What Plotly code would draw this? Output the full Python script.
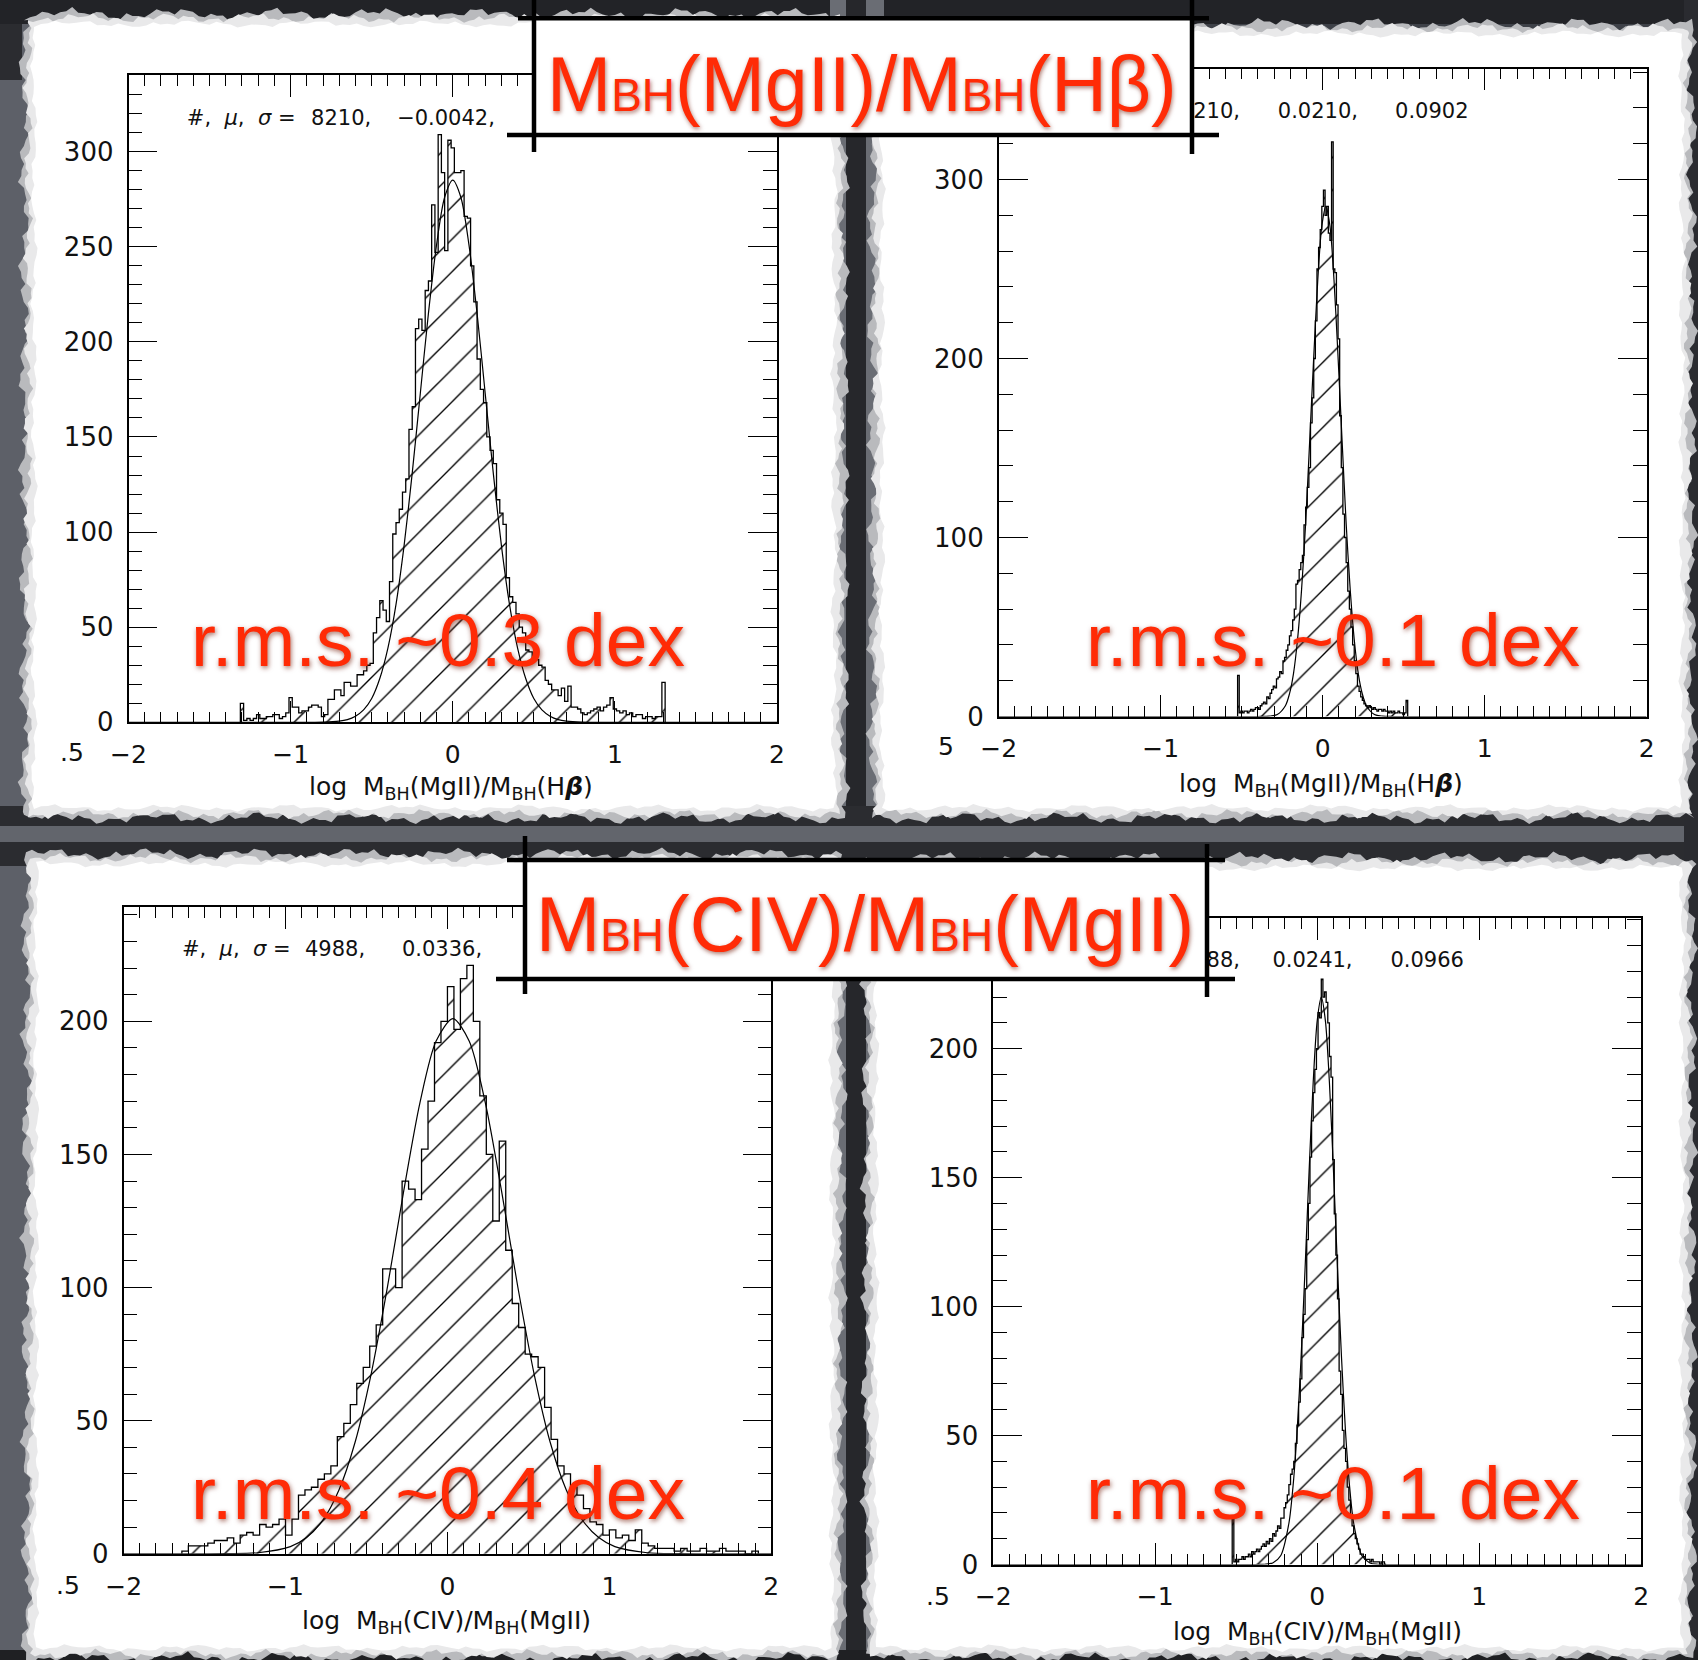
import math
import numpy as np
import plotly.graph_objects as go

W, H = 1698, 1660

# ---------------- data ----------------
# Top-left: log M_BH(MgII)/M_BH(Hbeta), bins of 0.02 starting at -1.30
tl_start, tl_bw = -1.30, 0.02
tl_counts = [10, 1, 2, 1, 2, 4, 2, 2, 3, 3, 4, 4, 2, 3, 5, 13, 8, 8, 5, 6,
             6, 8, 9, 9, 8, 3, 4, 12, 12, 17, 17, 14, 21, 21, 19, 19, 25, 25, 27, 30,
             31, 47, 55, 64, 59, 53, 74, 99, 105, 112, 121, 128, 154, 166, 207, 212, 206, 227, 232, 272,
             247, 309, 289, 248, 306, 302, 289, 289, 290, 266, 265, 240, 221, 191, 175, 168, 150, 143, 136, 117,
             110, 104, 76, 66, 63, 57, 50, 47, 38, 37, 33, 33, 30, 29, 22, 20, 17, 17, 14, 18,
             11, 19, 8, 8, 7, 5, 4, 5, 6, 7, 8, 6, 8, 9, 13, 7, 6, 5, 6, 4,
             5, 3, 4, 4, 2, 3, 3, 2, 3, 3, 21]
tl_fit_x = [-2.0, -1.0, -0.8, -0.7, -0.65, -0.6, -0.55, -0.5, -0.45, -0.4, -0.35, -0.3, -0.25, -0.2, -0.15, -0.1, -0.05,
            0.0, 0.05, 0.1, 0.15, 0.2, 0.25, 0.3, 0.35, 0.4, 0.45, 0.5, 0.55, 0.6, 0.65, 0.7, 0.8, 1.0, 2.0]
tl_fit_y = [0, 0, 0.1, 0.6, 1.4, 3.2, 6.5, 12.5, 23, 39, 62, 93, 131, 173, 215, 251, 276,
            285, 276, 251, 215, 173, 131, 93, 62, 39, 23, 12.5, 6.5, 3.2, 1.4, 0.6, 0.1, 0, 0]
tl_stats = ["#,  <i>μ</i>,  <i>σ</i> =", "8210,", "−0.0042,"]

# Top-right: same ratio, bins of 0.01 starting at -0.52
tr_start, tr_bw = -0.52, 0.01
tr_counts = [23, 2, 3, 2, 3, 3, 2, 3, 4, 3, 4, 5, 5, 4, 6, 7, 8, 7, 11, 10,
             13, 15, 17, 16, 21, 22, 25, 24, 31, 33, 37, 40, 45, 48, 54, 60, 74, 76, 82, 86,
             90, 107, 117, 128, 139, 164, 178, 200, 221, 250, 262, 272, 285, 294, 280, 285, 270, 266, 321, 250,
             248, 230, 211, 168, 139, 113, 100, 86, 70, 60, 50, 40, 31, 24, 17, 14, 11, 9, 7, 6,
             5, 6, 5, 4, 5, 4, 3, 4, 4, 3, 4, 3, 3, 2, 3, 2, 3, 2, 2, 3,
             2, 2, 1, 2, 9]
tr_fit_x = [-2.0, -0.4, -0.33, -0.28, -0.23, -0.205, -0.18, -0.155, -0.13, -0.105, -0.08, -0.055, -0.03, -0.005,
            0.02, 0.045, 0.07, 0.095, 0.12, 0.145, 0.17, 0.195, 0.22, 0.245, 0.27, 0.32, 0.37, 0.44, 2.0]
tr_fit_y = [0, 0, 0.2, 1.1, 6, 12.6, 24, 43, 71, 108, 154, 201, 244, 274,
            285, 274, 244, 201, 154, 108, 71, 43, 24, 12.6, 6, 1.1, 0.2, 0, 0]
tr_stats = ["8210,", "0.0210,", "0.0902"]

# Bottom-left: log M_BH(CIV)/M_BH(MgII), bins of 0.04 starting at -1.62
bl_start, bl_bw = -1.62, 0.04
bl_counts = [1, 3, 3, 3, 4, 5, 5, 6, 4, 7, 8, 7, 11, 10, 11, 13, 7, 13, 22, 24,
             25, 28, 30, 33, 44, 49, 56, 64, 70, 78, 86, 107, 107, 100, 140, 137, 133, 152, 170, 192,
             200, 213, 197, 216, 221, 200, 172, 150, 125, 155, 114, 94, 85, 75, 74, 70, 55, 43, 33, 30,
             25, 22, 17, 12, 11, 7, 9, 6, 7, 5, 9, 4, 3, 2, 2, 2, 1, 2, 1, 1,
             2, 1, 1, 2, 1, 1, 1, 0, 1]
bl_fit_x = [-2.0, -1.37, -1.17, -0.97, -0.87, -0.77, -0.67, -0.57, -0.47, -0.37, -0.27, -0.17, -0.07,
            0.034, 0.134, 0.234, 0.334, 0.434, 0.534, 0.634, 0.734, 0.834, 0.934, 1.034, 1.234, 1.434, 2.0]
bl_fit_y = [0, 0.04, 0.4, 2.7, 6.1, 12.6, 24, 42, 67.9, 100.4, 136.3, 169.4, 192.6,
            201, 192.6, 169.4, 136.3, 100.4, 67.9, 42, 24, 12.6, 6.1, 2.7, 0.4, 0.04, 0]
bl_stats = ["#,  <i>μ</i>,  <i>σ</i> =", "4988,", "0.0336,"]

# Bottom-right: same ratio, bins of 0.01 starting at -0.52
br_start, br_bw = -0.52, 0.01
br_counts = [18, 1, 2, 1, 2, 2, 3, 2, 3, 3, 4, 3, 5, 4, 5, 6, 5, 6, 7, 8,
             7, 9, 8, 10, 9, 12, 11, 13, 15, 14, 18, 18, 22, 24, 27, 31, 35, 37, 40, 47,
             54, 63, 72, 88, 97, 107, 126, 140, 158, 172, 183, 192, 200, 214, 212, 227, 220, 222, 218, 210,
             197, 189, 157, 136, 120, 103, 75, 66, 52, 45, 40, 30, 25, 19, 15, 12, 10, 8, 6, 4,
             4, 3, 2, 2, 2, 1, 2, 1, 1, 1, 1, 0, 1, 1, 0]
br_fit_x = [-2.0, -0.38, -0.325, -0.275, -0.225, -0.175, -0.15, -0.125, -0.1, -0.075, -0.05, -0.025, 0.0,
            0.025, 0.05, 0.075, 0.1, 0.125, 0.15, 0.175, 0.2, 0.225, 0.275, 0.325, 0.375, 0.43, 2.0]
br_fit_y = [0, 0, 0.1, 0.6, 3.5, 16, 30, 51, 80, 115, 153, 187, 211,
            220, 211, 187, 153, 115, 80, 51, 30, 16, 3.5, 0.6, 0.1, 0, 0]
br_stats = ["4988,", "0.0241,", "0.0966"]

x_tickvals = [-2, -1, 0, 1, 2]
x_ticktext = ["−2", "−1", "0", "1", "2"]
tl_yticks = [0, 50, 100, 150, 200, 250, 300]
tr_yticks = [0, 100, 200, 300]
bl_yticks = [0, 50, 100, 150, 200]
br_yticks = [0, 50, 100, 150, 200]

top_title = "M<span style='font-size:46px'>BH</span>(MgII)/M<span style='font-size:46px'>BH</span>(Hβ)"
bot_title = "M<span style='font-size:46px'>BH</span>(CIV)/M<span style='font-size:46px'>BH</span>(MgII)"
top_xlabel = "log  M<sub>BH</sub>(MgII)/M<sub>BH</sub>(H<b><i>β</i></b>)"
bot_xlabel = "log  M<sub>BH</sub>(CIV)/M<sub>BH</sub>(MgII)"
rms_labels = ["r.m.s. ~0.3 dex", "r.m.s. ~0.1 dex", "r.m.s. ~0.4 dex", "r.m.s. ~0.1 dex"]

# ---------------- helpers ----------------
def px(x):
    return x / W


def py(y):
    return 1 - y / H


def step_xy(start, bw, counts):
    n = len(counts)
    edges = [start - bw / 2 + bw * i for i in range(n + 1)]
    xs = [edges[0]] + edges[:n] + [edges[n], edges[n]]
    ys = [0] + list(counts) + [counts[-1], 0]
    return xs, ys


RED = "#ff2b06"
TXT = "#111111"
FONT = "DejaVu Sans"

fig = go.Figure()

panels = [
    dict(k="", counts=tl_counts, start=tl_start, bw=tl_bw, fx=tl_fit_x, fy=tl_fit_y,
         yr=340.4, yt=tl_yticks, ym=10, dx=(128.5, 777.0), dy=(74.8, 722.3)),
    dict(k="2", counts=tr_counts, start=tr_start, bw=tr_bw, fx=tr_fit_x, fy=tr_fit_y,
         yr=362.0, yt=tr_yticks, ym=20, dx=(998.7, 1646.6), dy=(68.5, 716.5)),
    dict(k="3", counts=bl_counts, start=bl_start, bw=bl_bw, fx=bl_fit_x, fy=bl_fit_y,
         yr=243.0, yt=bl_yticks, ym=10, dx=(123.6, 771.3), dy=(906.8, 1553.8)),
    dict(k="4", counts=br_counts, start=br_start, bw=br_bw, fx=br_fit_x, fy=br_fit_y,
         yr=250.7, yt=br_yticks, ym=10, dx=(993.3, 1641.2), dy=(918.0, 1564.5)),
]

layout_axes = {}
for p in panels:
    xa = "x" + p["k"]
    ya = "y" + p["k"]
    xs, ys = step_xy(p["start"], p["bw"], p["counts"])
    fig.add_trace(go.Scatter(
        x=xs, y=ys, mode="lines", line=dict(color="black", width=1.3, shape="hv"),
        fill="tozeroy", fillcolor="rgba(255,255,255,0)",
        fillpattern=dict(shape="/", size=23, solidity=0.06, fgcolor="black",
                         bgcolor="rgba(255,255,255,0)", fgopacity=1),
        xaxis=xa, yaxis=ya, showlegend=False, hoverinfo="skip"))
    fig.add_trace(go.Scatter(
        x=p["fx"], y=p["fy"], mode="lines", line=dict(color="black", width=1.2, shape="spline", smoothing=0.8),
        xaxis=xa, yaxis=ya, showlegend=False, hoverinfo="skip"))
    layout_axes["xaxis" + p["k"]] = dict(
        domain=[px(p["dx"][0]), px(p["dx"][1])], anchor=ya, range=[-2, 2], automargin=False,
        tickvals=x_tickvals, ticktext=x_ticktext, ticks="inside", ticklen=22, tickwidth=1.3,
        tickcolor="black", minor=dict(ticks="inside", ticklen=11, dtick=0.1, tickwidth=1.1, tickcolor="black"),
        showline=True, linecolor="black", linewidth=1.6, mirror="ticks", showgrid=False, zeroline=False,
        tickfont=dict(family=FONT, size=25, color=TXT), ticklabelstandoff=9, fixedrange=True)
    layout_axes["yaxis" + p["k"]] = dict(
        domain=[py(p["dy"][1]), py(p["dy"][0])], anchor=xa, range=[0, p["yr"]], automargin=False,
        tickvals=p["yt"], ticks="inside", ticklen=29, tickwidth=1.3, tickcolor="black",
        minor=dict(ticks="inside", ticklen=14, dtick=p["ym"], tickwidth=1.1, tickcolor="black"),
        showline=True, linecolor="black", linewidth=1.6, mirror="ticks", showgrid=False, zeroline=False,
        tickfont=dict(family=FONT, size=26, color=TXT), ticklabelstandoff=8, fixedrange=True)

# stats text as scatter text (so that title boxes can cover them)
stat_font = dict(family=FONT, size=21, color=TXT)
stat_specs = [
    ("x", "y", [-1.64, -0.874, -0.343], 317, tl_stats, ["middle right"] * 3),
    ("x2", "y2", [-0.51, -0.277, 0.447], 337.4, tr_stats, ["middle left", "middle right", "middle right"]),
    ("x3", "y3", [-1.64, -0.88, -0.281], 226.4, bl_stats, ["middle right"] * 3),
    ("x4", "y4", [-0.477, -0.277, 0.452], 233.8, br_stats, ["middle left", "middle right", "middle right"]),
]
for xa, ya, xv, yv, txt, pos in stat_specs:
    fig.add_trace(go.Scatter(x=xv, y=[yv] * len(xv), mode="text", text=txt, textposition=pos,
                             textfont=stat_font, xaxis=xa, yaxis=ya, showlegend=False,
                             hoverinfo="skip", cliponaxis=True))

# ---------------- background and torn paper ----------------
shapes = []


def rect(x0, y0, x1, y1, color, layer="below"):
    shapes.append(dict(type="rect", xref="paper", yref="paper", x0=px(x0), x1=px(x1),
                       y0=py(y1), y1=py(y0), fillcolor=color, line=dict(width=0), layer=layer))


def jag(i, s):
    return (0.5 * math.sin(i * 1.31 + s) + 0.3 * math.sin(i * 2.77 + 1.7 * s)
            + 0.6 * math.sin(i * 0.37 + 2.3 * s))


def torn_path(x0, y0, x1, y1, amp, step, s):
    pts = []
    nx = int((x1 - x0) / step)
    ny = int((y1 - y0) / step)
    for i in range(nx + 1):
        pts.append((x0 + (x1 - x0) * i / nx, y0 + amp * jag(i, s)))
    for i in range(1, ny + 1):
        pts.append((x1 + amp * jag(i, s + 1), y0 + (y1 - y0) * i / ny))
    for i in range(1, nx + 1):
        pts.append((x1 - (x1 - x0) * i / nx, y1 + amp * jag(i, s + 2)))
    for i in range(1, ny):
        pts.append((x0 + amp * jag(i, s + 3), y1 - (y1 - y0) * i / ny))
    return "M " + " L ".join(f"{px(x):.5f},{py(y):.5f}" for x, y in pts) + " Z"


rect(0, 0, W, 24, "#222327")
rect(0, 24, 34, H, "#5d6068")
rect(0, 24, 22, 80, "#2b2c30")
rect(830, 0, 884, H, "#6a6d74")
rect(846, 0, 866, H, "#26272b")
rect(0, 806, W, 866, "#2b2c30")
rect(0, 826, W, 842, "#62656c")
rect(1684, 0, W, H, "#2a2b30")
rect(0, 1650, W, H, "#1f2023")

papers = [(30, 20, 838, 812, 0.3), (878, 30, 1686, 812, 1.9), (32, 860, 836, 1652, 3.7), (872, 864, 1686, 1652, 5.1)]
for x0, y0, x1, y1, s in papers:
    shapes.append(dict(type="path", xref="paper", yref="paper",
                       path=torn_path(x0 - 6, y0 - 6, x1 + 6, y1 + 6, 5, 6, s + 0.5),
                       fillcolor="#b9babd", line=dict(width=0), layer="below"))
    shapes.append(dict(type="path", xref="paper", yref="paper",
                       path=torn_path(x0 - 2, y0 - 2, x1 + 2, y1 + 2, 4, 5, s),
                       fillcolor="#e9e9ea", line=dict(width=0), layer="below"))
    shapes.append(dict(type="path", xref="paper", yref="paper",
                       path=torn_path(x0 + 4, y0 + 4, x1 - 4, y1 - 4, 3, 7, s + 0.9),
                       fillcolor="white", line=dict(width=0), layer="below"))

# title boxes (above the plots)
def line(x0, y0, x1, y1, w=4.5):
    shapes.append(dict(type="line", xref="paper", yref="paper", x0=px(x0), x1=px(x1),
                       y0=py(y0), y1=py(y1), line=dict(color="black", width=w), layer="above"))


rect(534, 18, 1192, 135, "white", layer="above")
line(518, 18.3, 1209, 18.3)
line(507, 135, 1219, 135)
line(534, 0, 534, 152)
line(1192, 0, 1192, 154)

rect(525, 860, 1207, 979, "white", layer="above")
line(507, 860, 1225, 860)
line(496, 979, 1235, 979)
line(525, 836, 525, 994)
line(1207, 844, 1207, 997)

# ---------------- annotations ----------------
ann = []
title_font = dict(family="Liberation Sans", size=77, color=RED, shadow="1px 2px 4px rgba(110,20,0,0.55)")
ann.append(dict(text=top_title, x=px(862), y=py(84), xref="paper", yref="paper", showarrow=False,
                xanchor="center", yanchor="middle", font=title_font))
ann.append(dict(text=bot_title, x=px(865), y=py(924), xref="paper", yref="paper", showarrow=False,
                xanchor="center", yanchor="middle", font=title_font))

rms_font = dict(family="Liberation Sans", size=75, color=RED, shadow="1px 2px 5px rgba(110,20,0,0.6)")
for txt, (cx, cy) in zip(rms_labels, [(438, 640), (1333, 640), (438, 1493), (1333, 1493)]):
    ann.append(dict(text=txt, x=px(cx), y=py(cy), xref="paper", yref="paper", showarrow=False,
                    xanchor="center", yanchor="middle", font=rms_font))

lab_font = dict(family=FONT, size=25, color=TXT)
for txt, (cx, cy) in zip([top_xlabel, top_xlabel, bot_xlabel, bot_xlabel],
                         [(451, 788), (1321, 785), (447, 1622), (1317, 1633)]):
    ann.append(dict(text=txt, x=px(cx), y=py(cy), xref="paper", yref="paper", showarrow=False,
                    xanchor="center", yanchor="middle", font=lab_font))

for txt, (cx, cy) in zip([".5", "5", ".5", ".5"], [(72, 753), (946, 747), (68, 1585), (938, 1596)]):
    ann.append(dict(text=txt, x=px(cx), y=py(cy), xref="paper", yref="paper", showarrow=False,
                    xanchor="center", yanchor="middle", font=lab_font))

fig.update_layout(
    width=W, height=H, autosize=False, margin=dict(l=0, r=0, t=0, b=0, pad=0),
    paper_bgcolor="#3e4148", plot_bgcolor="rgba(0,0,0,0)", showlegend=False,
    shapes=shapes, annotations=ann, **layout_axes)

fig.write_html("out.html")
